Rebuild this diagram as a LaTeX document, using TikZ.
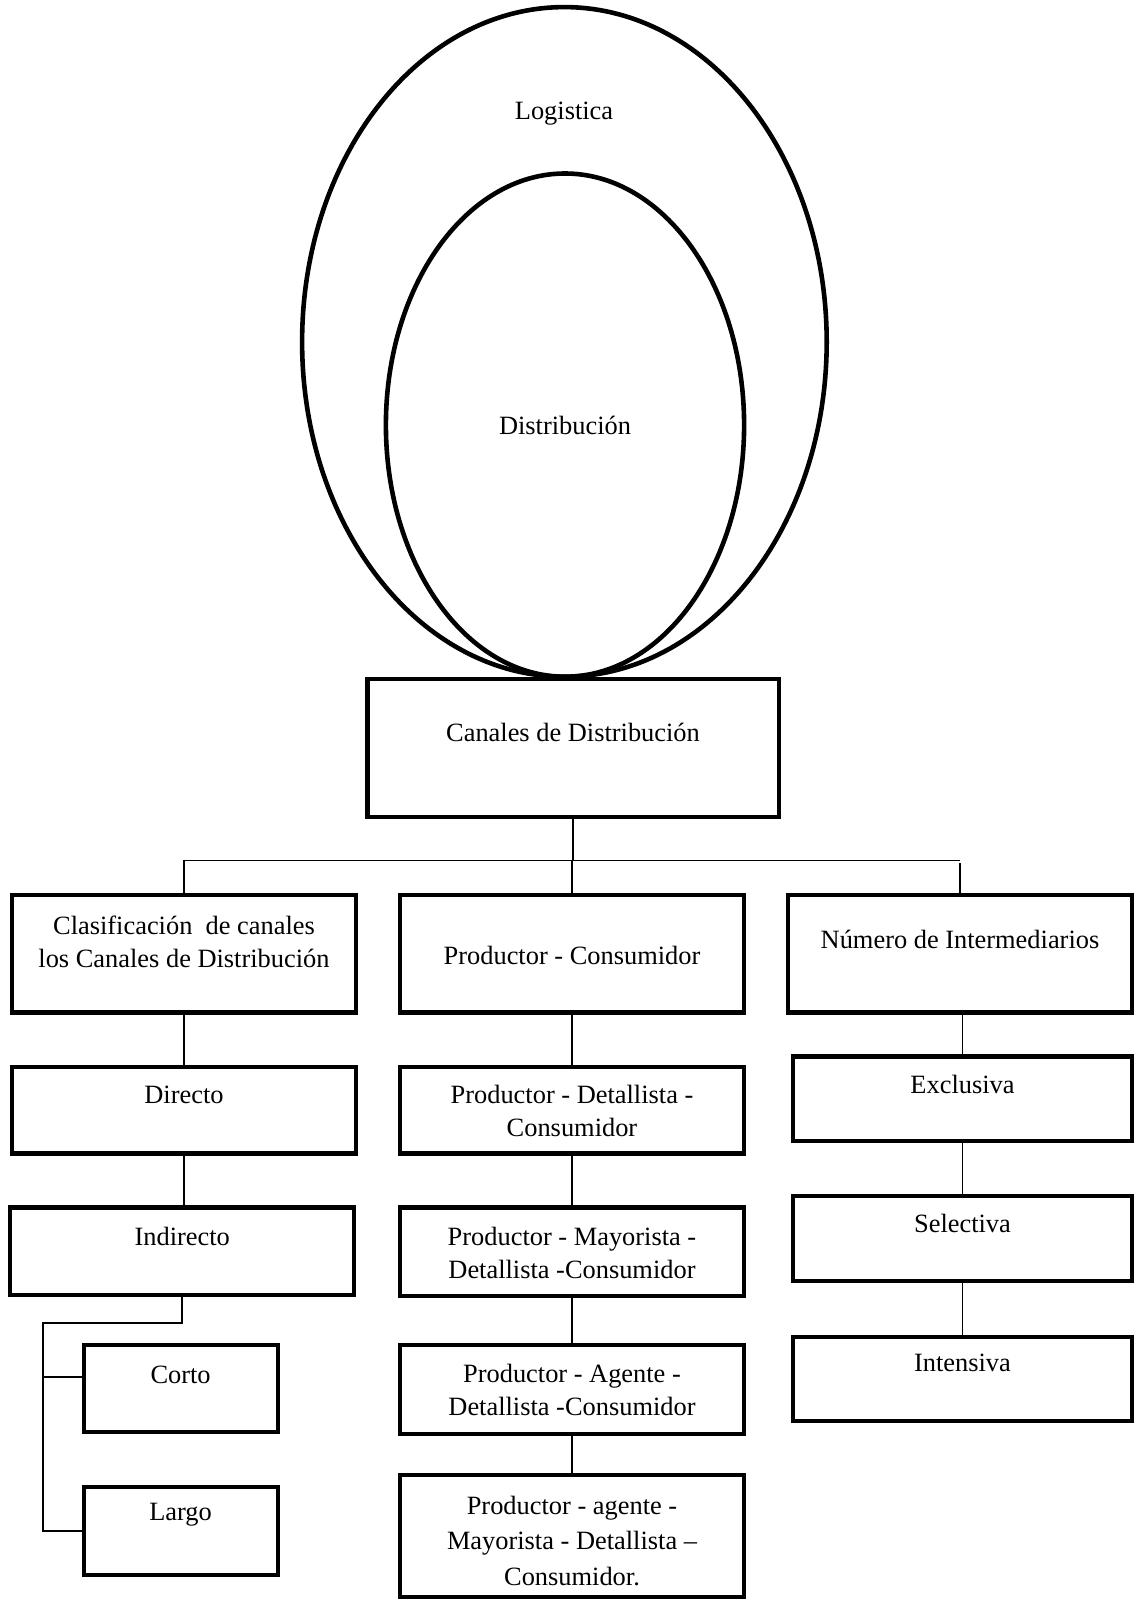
\documentclass[tikz,border=0pt]{standalone}
\usepackage{fontspec}
\setmainfont{Liberation Serif}
\usetikzlibrary{fit}
\begin{document}
\begin{tikzpicture}[x=0.5pt,y=-0.5pt,
  box/.style={draw, line width=2.1pt, inner sep=0pt},
  lbl/.style={align=center, inner sep=0pt, font=\fontsize{13.2}{16.3}\selectfont},
  conn/.style={line width=0.8pt},
  ring/.style={line width=2.3pt}]
\useasboundingbox (0,0) rectangle (1136,1600);

% nested scopes
\draw[ring] (564.4,341.9) ellipse [x radius=262.3, y radius=334.8];
\draw[ring] (565,425.1) ellipse [x radius=179.1, y radius=251.6];
\node[lbl] (logistica) at (564,113.3) {Logistica};
\node[lbl] (distribucion) at (565,425.6) {Distribución};

% top box
\node[box, fit={(367.5,678.8)(778.8,816.6)}] (canales) {};
\node[lbl] (t-canales) at (573,732.9) {Canales de Distribución};

% first row
\node[box, fit={(12.2,895.2)(356.2,1012.5)}] (clasif) {};
\node[lbl] (t-clasif) at (184,941.6) {Clasificación~ de canales\\los Canales de Distribución};
\node[box, fit={(400.1,895.2)(744.1,1012.5)}] (prodcons) {};
\node[lbl] (t-prodcons) at (572,955.4) {Productor - Consumidor};
\node[box, fit={(788,895.2)(1132,1012.5)}] (numint) {};
\node[lbl] (t-numint) at (960,939) {Número de Intermediarios};

% left column
\node[box, fit={(12.2,1066.6)(356.2,1153.4)}] (directo) {};
\node[lbl] (t-directo) at (184,1095.2) {Directo};
\node[box, fit={(10.2,1207.5)(354.2,1295.3)}] (indirecto) {};
\node[lbl] (t-indirecto) at (182.2,1236.1) {Indirecto};
\node[box, fit={(83.7,1345.3)(277.6,1432)}] (corto) {};
\node[lbl] (t-corto) at (180.6,1374.9) {Corto};
\node[box, fit={(83.7,1487.2)(277.6,1575)}] (largo) {};
\node[lbl] (t-largo) at (180.6,1514.7) {Largo};

% middle column
\node[box, fit={(400.1,1066.6)(744.1,1153.4)}] (pdc) {};
\node[lbl] (t-pdc) at (572,1111) {Productor - Detallista -\\Consumidor};
\node[box, fit={(400.1,1207.5)(744.1,1296.3)}] (pmdc) {};
\node[lbl] (t-pmdc) at (572,1252.9) {Productor - Mayorista -\\Detallista -Consumidor};
\node[box, fit={(400.1,1345.3)(744.1,1434.1)}] (padc) {};
\node[lbl] (t-padc) at (572,1389.7) {Productor - Agente -\\Detallista -Consumidor};
\node[box, fit={(400.1,1474.9)(744.1,1597)}] (pamdc) {};
\node[lbl, font=\fontsize{13.2}{17.9}\selectfont] (t-pamdc) at (572,1540.9)
  {Productor - agente -\\Mayorista - Detallista --\\Consumidor.};

% right column
\node[box, fit={(793.1,1056.4)(1132,1141.1)}] (exclusiva) {};
\node[lbl] (t-exclusiva) at (962.5,1084) {Exclusiva};
\node[box, fit={(793.1,1196.3)(1132,1281)}] (selectiva) {};
\node[lbl] (t-selectiva) at (962.5,1223.8) {Selectiva};
\node[box, fit={(793.1,1337.1)(1132,1420.8)}] (intensiva) {};
\node[lbl] (t-intensiva) at (962.5,1362.6) {Intensiva};

% connectors
\coordinate (busL) at (181.7,860.5);
\coordinate (busR) at (959.5,860.5);
\draw[conn] (clasif.north) -- (clasif.north |- busL) -- (busR);
\draw[conn] (canales.south) -- (canales.south |- busL) -| (prodcons.north);
\draw[conn] (numint.north) -- ++(0,-30);

\draw[conn] (clasif.south) -- (directo.north);
\draw[conn] (directo.south) -- (directo.south |- indirecto.north);
\coordinate (split) at (42.9,1322.8);
\coordinate (cbr) at (0,1377);
\draw[conn] (indirecto.south) |- (split) -- (split |- largo.west) -- (largo.west);
\draw[conn] (split |- cbr) -- (corto.west |- cbr);

\draw[conn] (prodcons.south) -- (pdc.north);
\draw[conn] (pdc.south) -- (pmdc.north);
\draw[conn] (pmdc.south) -- (padc.north);
\draw[conn] (padc.south) -- (pamdc.north);

\draw[conn] (exclusiva.north |- numint.south) -- (exclusiva.north);
\draw[conn] (exclusiva.south) -- (selectiva.north);
\draw[conn] (selectiva.south) -- (intensiva.north);
\end{tikzpicture}
\end{document}
